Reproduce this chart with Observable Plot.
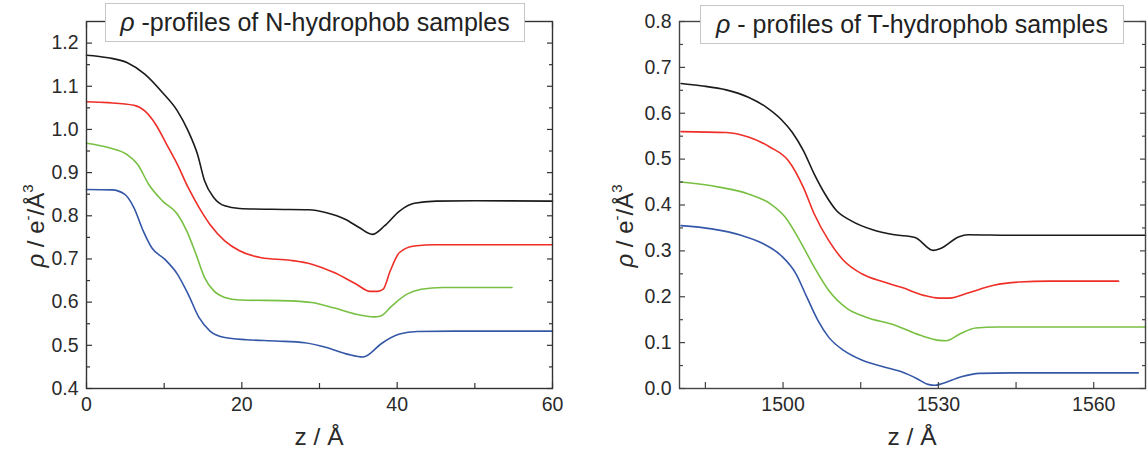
<!DOCTYPE html>
<html>
<head>
<meta charset="utf-8">
<script src="https://cdn.jsdelivr.net/npm/d3@7"></script>
<script src="https://cdn.jsdelivr.net/npm/@observablehq/plot@0.6"></script>
<style>
  html, body { margin: 0; padding: 0; background: #fff; }
  #wrap { position: relative; width: 1147px; height: 456px; overflow: hidden; font-family: "Liberation Sans", Arial, sans-serif; color: #2a2a2a; }
  .panel { position: absolute; top: 0; }
  .title { position: absolute; box-sizing: border-box; border: 1px solid #c6c6c6; background: #fff; font-size: 25px; text-align: center; white-space: nowrap; line-height: 36px; color: #222; }
  .xlab { position: absolute; font-size: 24.5px; transform: translate(-50%, -50%); white-space: nowrap; color: #2a2a2a; }
  .ylab { position: absolute; font-size: 24px; transform: translate(-50%, -50%) rotate(-90deg); white-space: nowrap; color: #2a2a2a; }
  .ylab sup { font-size: 15px; vertical-align: 11px; line-height: 0; }
</style>
</head>
<body>
<div id="wrap">
  <div id="left" class="panel" style="left:0px"></div>
  <div id="right" class="panel" style="left:570px"></div>
  <div class="title" style="left:105px;top:3px;width:420px;height:39px;"><i>ρ</i> -profiles of N-hydrophob samples</div>
  <div class="title" style="left:700px;top:5px;width:424px;height:39px;"><i>ρ</i> - profiles of T-hydrophob samples</div>
  <div class="xlab" style="left:319px;top:437px;">z / Å</div>
  <div class="xlab" style="left:912px;top:437px;">z / Å</div>
  <div class="ylab" style="left:36px;top:226px;"><i>ρ</i> / e<sup>-</sup>/Å<sup>3</sup></div>
  <div class="ylab" style="left:625px;top:226px;"><i>ρ</i> / e<sup>-</sup>/Å<sup>3</sup></div>
</div>
<script>
// ---------- Data: N-hydrophob samples (left panel), [z (Å), rho (e/Å^3)] ----------
const nBlack = [[0,1.172],[2.8,1.166],[5.2,1.155],[7.5,1.128],[9.8,1.085],[11.7,1.043],[13.1,0.996],[14.3,0.942],[15.2,0.881],[16.4,0.842],[17.8,0.823],[19.7,0.817],[23.9,0.815],[28.6,0.814],[30.9,0.807],[33.3,0.792],[35.1,0.773],[36.8,0.757],[38.4,0.777],[40.3,0.811],[42.2,0.829],[45,0.834],[50,0.835],[60,0.834]];
const nRed = [[0,1.064],[2.8,1.062],[6.1,1.056],[7.5,1.043],[8.9,1.012],[10.3,0.966],[11.7,0.919],[13.1,0.865],[14.5,0.819],[15.9,0.78],[17.8,0.742],[19.7,0.719],[22.5,0.703],[26.2,0.697],[29,0.688],[31.8,0.669],[34.7,0.642],[36.5,0.625],[37.5,0.625],[38.2,0.63],[39.1,0.672],[40.3,0.715],[42.2,0.73],[45,0.733],[60,0.733]];
const nGreen = [[0,0.968],[2.8,0.958],[5.2,0.942],[6.6,0.919],[8,0.873],[9.8,0.834],[11.7,0.804],[12.9,0.765],[14.1,0.711],[15.2,0.657],[16.4,0.626],[17.8,0.611],[19.7,0.605],[26.2,0.603],[29,0.599],[31.8,0.587],[34.7,0.572],[37,0.566],[37.9,0.568],[39.3,0.591],[41.2,0.618],[43.1,0.63],[45.9,0.634],[54.8,0.634]];
const nBlue = [[0,0.861],[3.3,0.86],[4.9,0.85],[6.1,0.819],[7.3,0.765],[8.4,0.726],[10.1,0.699],[11.7,0.665],[13.1,0.618],[14.5,0.564],[15.9,0.533],[17.8,0.518],[20.6,0.513],[24.4,0.51],[28.1,0.506],[30.9,0.495],[33.7,0.479],[35.6,0.473],[36.1,0.476],[37.9,0.503],[40.3,0.526],[42.6,0.532],[47.3,0.533],[60,0.533]];

// ---------- Data: T-hydrophob samples (right panel) ----------
const tBlack = [[1480.3,0.665],[1484.1,0.66],[1489,0.651],[1493.3,0.635],[1496.8,0.613],[1499.6,0.587],[1501.8,0.558],[1503.9,0.519],[1506,0.468],[1508.1,0.424],[1510.3,0.388],[1513.1,0.366],[1517.3,0.346],[1521.6,0.335],[1525.5,0.329],[1529,0.301],[1530.4,0.305],[1534,0.331],[1535.7,0.335],[1544,0.334],[1570,0.334]];
const tRed = [[1480.3,0.56],[1489,0.558],[1493.3,0.548],[1497.5,0.526],[1501,0.497],[1503.9,0.439],[1506,0.381],[1508.8,0.323],[1511.7,0.279],[1515.2,0.25],[1519.5,0.232],[1523,0.22],[1527.2,0.203],[1530.1,0.197],[1532.2,0.197],[1535.7,0.208],[1540.7,0.225],[1545.6,0.232],[1551.3,0.234],[1564.8,0.234]];
const tGreen = [[1480.3,0.45],[1487.6,0.439],[1493.3,0.424],[1497.5,0.403],[1500.4,0.374],[1503.2,0.323],[1506,0.265],[1508.8,0.214],[1512.4,0.174],[1515.9,0.156],[1521.6,0.138],[1526.5,0.116],[1530.1,0.105],[1531.5,0.104],[1534.3,0.12],[1537.2,0.132],[1541.4,0.134],[1570,0.134]];
const tBlue = [[1480.3,0.355],[1486.2,0.348],[1491.9,0.334],[1496.1,0.316],[1499.6,0.29],[1502.5,0.25],[1504.6,0.199],[1506.7,0.149],[1508.8,0.112],[1511.7,0.083],[1515.2,0.062],[1519.5,0.047],[1523,0.036],[1525.8,0.022],[1528,0.009],[1529.4,0.007],[1530.8,0.011],[1534.3,0.025],[1537.9,0.033],[1544.2,0.034],[1568.6,0.034]];

// ---------- Series names / colours ----------
const seriesNames = ["sample A", "sample B", "sample C", "sample D"];
const seriesColors = ["#1b1b1b", "#ee2e27", "#78c043", "#3457a8"];

// ---------- Ticks ----------
const nXMajor = [0, 20, 40, 60];
const nXMinor = [10, 30, 50];
const nYMajor = [0.4, 0.5, 0.6, 0.7, 0.8, 0.9, 1.0, 1.1, 1.2];
const nYMinor = [0.45, 0.55, 0.65, 0.75, 0.85, 0.95, 1.05, 1.15];
const tXMajor = [1500, 1530, 1560];
const tXMinor = [1485, 1515, 1545];
const tYMajor = [0.0, 0.1, 0.2, 0.3, 0.4, 0.5, 0.6, 0.7, 0.8];
const tYMinor = [0.05, 0.15, 0.25, 0.35, 0.45, 0.55, 0.65, 0.75];

function toRows(list) {
  const rows = [];
  list.forEach((pts, i) => pts.forEach(([z, rho]) => rows.push({series: seriesNames[i], z, rho})));
  return rows;
}

function panel({rows, xDomain, yDomain, xMajor, xMinor, yMajor, yMinor, width, marginLeft, marginRight, frameColor, xMinorLen}) {
  const fmt = d3.format(".1f");
  const big = 6, small = 4;
  const tk = {fill: "none", label: null, stroke: frameColor, strokeWidth: 1.2};
  return Plot.plot({
    width, height: 456,
    marginLeft, marginRight, marginTop: 21, marginBottom: 68,
    style: {fontFamily: "'Liberation Sans', Arial, sans-serif", fontSize: "19.5px", color: "#2a2a2a", background: "transparent", overflow: "visible"},
    x: {domain: xDomain},
    y: {domain: yDomain},
    color: {domain: seriesNames, range: seriesColors},
    marks: [
      Plot.line(rows, {x: "z", y: "rho", z: "series", stroke: "series", strokeWidth: 1.6, curve: "monotone-x"}),
      Plot.frame({stroke: frameColor, strokeWidth: 1.4}),
      // tick labels
      Plot.axisY({anchor: "left", ticks: yMajor, tickSize: 0, tickPadding: 8, tickFormat: fmt, label: null}),
      Plot.axisX({anchor: "bottom", ticks: xMajor, tickSize: 0, tickPadding: 9, tickFormat: d => String(d), label: null}),
      // inward ticks on all four sides
      Plot.axisY({anchor: "left", ticks: yMajor, tickSize: big, dx: big, ...tk}),
      Plot.axisY({anchor: "left", ticks: yMinor, tickSize: small, dx: small, ...tk}),
      Plot.axisY({anchor: "right", ticks: yMajor, tickSize: big, dx: -big, ...tk}),
      Plot.axisY({anchor: "right", ticks: yMinor, tickSize: small, dx: -small, ...tk}),
      Plot.axisX({anchor: "bottom", ticks: xMajor, tickSize: big, dy: -big, ...tk}),
      Plot.axisX({anchor: "bottom", ticks: xMinor, tickSize: xMinorLen, dy: -xMinorLen, ...tk}),
      Plot.axisX({anchor: "top", ticks: xMajor, tickSize: big, dy: big, ...tk}),
      Plot.axisX({anchor: "top", ticks: xMinor, tickSize: xMinorLen, dy: xMinorLen, ...tk})
    ]
  });
}

document.getElementById("left").appendChild(panel({
  rows: toRows([nBlack, nRed, nGreen, nBlue]),
  xDomain: [0, 60], yDomain: [0.4, 1.25],
  xMajor: nXMajor, xMinor: nXMinor, yMajor: nYMajor, yMinor: nYMinor,
  width: 570, marginLeft: 86, marginRight: 18, frameColor: "#333", xMinorLen: 5
}));
document.getElementById("right").appendChild(panel({
  rows: toRows([tBlack, tRed, tGreen, tBlue]),
  xDomain: [1480, 1570], yDomain: [0, 0.8],
  xMajor: tXMajor, xMinor: tXMinor, yMajor: tYMajor, yMinor: tYMinor,
  width: 577, marginLeft: 109, marginRight: 2, frameColor: "#444", xMinorLen: 6
}));
</script>
</body>
</html>
